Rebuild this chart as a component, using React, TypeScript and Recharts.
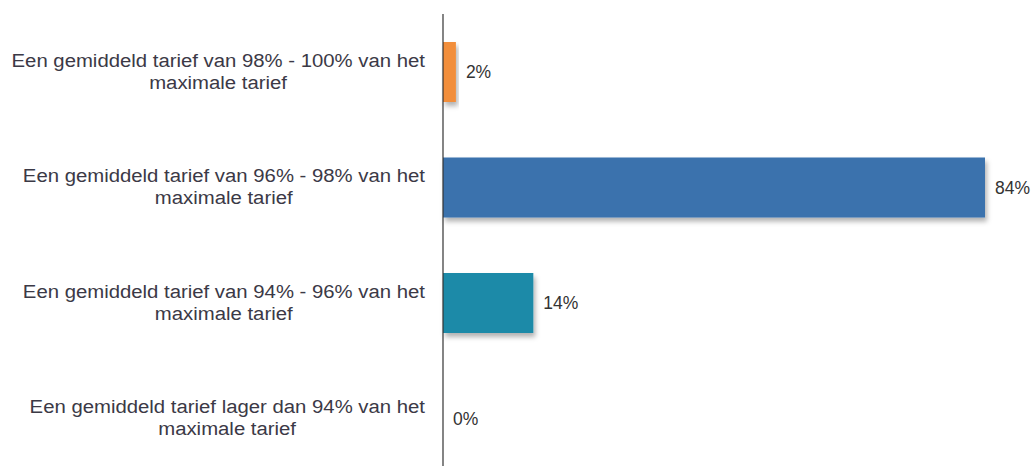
import React from "react";
import { BarChart, Bar, XAxis, YAxis, Cell, LabelList } from "recharts";

const categories = [
  ["Een gemiddeld tarief van 98% - 100% van het", "maximale tarief"],
  ["Een gemiddeld tarief van 96% - 98% van het", "maximale tarief"],
  ["Een gemiddeld tarief van 94% - 96% van het", "maximale tarief"],
  ["Een gemiddeld tarief lager dan 94% van het", "maximale tarief"],
];
const values = [2, 84, 14, 0];
const colors = ["#F28E3A", "#3A72AD", "#1E8AA8", "#3A72AD"];

const data = categories.map((c, i) => ({ name: c.join("\n"), value: values[i] }));

const FONT = "'Liberation Sans', Arial, sans-serif";
const CAT_SIZE = 18;
const STRETCH = 1.13;

let ctx: CanvasRenderingContext2D | null = null;
function measure(text: string, size: number) {
  if (!ctx) {
    const c = document.createElement("canvas");
    ctx = c.getContext("2d");
  }
  if (!ctx) return text.length * size * 0.5;
  ctx.font = `${size}px 'Liberation Sans', Arial, sans-serif`;
  return ctx.measureText(text).width;
}

const CategoryTick = (props: any) => {
  const { x, y, payload } = props;
  const lines = String(payload.value).split("\n");
  const w1 = measure(lines[0], CAT_SIZE);
  return (
    <g transform={`translate(${x},${y}) scale(${STRETCH},1)`}>
      <text
        x={0}
        y={-11}
        textAnchor="end"
        dominantBaseline="central"
        fontFamily={FONT}
        fontSize={CAT_SIZE}
        fill="#3b3946"
      >
        {lines[0]}
      </text>
      <text
        x={-w1 / 2}
        y={11}
        textAnchor="middle"
        dominantBaseline="central"
        fontFamily={FONT}
        fontSize={CAT_SIZE}
        fill="#3b3946"
      >
        {lines[1]}
      </text>
    </g>
  );
};

const ShadowBar = (props: any) => {
  const { x, y, width, height, fill, index } = props;
  if (!width || width <= 0) return null;
  const id = `shadow-${index}`;
  return (
    <g>
      <defs>
        <filter id={id} x="-10%" y="-20%" width="130%" height="160%">
          <feDropShadow dx="2" dy="4" stdDeviation="2.5" floodColor="#000" floodOpacity="0.3" />
        </filter>
      </defs>
      <rect x={x} y={y} width={width} height={height} fill={fill} filter={`url(#${id})`} />
    </g>
  );
};

export default function App() {
  return (
    <div
      style={{
        position: "absolute",
        left: 0,
        top: 0,
        width: 1032,
        height: 466,
        overflow: "hidden",
        background: "#fff",
      }}
    >
      <BarChart
        width={1032}
        height={476}
        data={data}
        layout="vertical"
        margin={{ top: 14, right: 47, bottom: 0, left: 0 }}
        barSize={60}
      >
        <XAxis type="number" domain={[0, 84]} hide />
        <YAxis
          type="category"
          dataKey="name"
          width={443}
          tickLine={false}
          tickSize={0}
          tickMargin={18}
          axisLine={{ stroke: "#333", strokeWidth: 1.2 }}
          tick={<CategoryTick />}
          interval={0}
        />
        <Bar dataKey="value" isAnimationActive={false} shape={<ShadowBar />}>
          {values.map((v, i) => (
            <Cell key={i} fill={colors[i]} />
          ))}
          <LabelList
            dataKey="value"
            position="right"
            offset={10}
            formatter={(v: any) => `${v}%`}
            style={{ fontFamily: FONT, fontSize: 17.5, fill: "#333" }}
          />
        </Bar>
      </BarChart>
    </div>
  );
}
